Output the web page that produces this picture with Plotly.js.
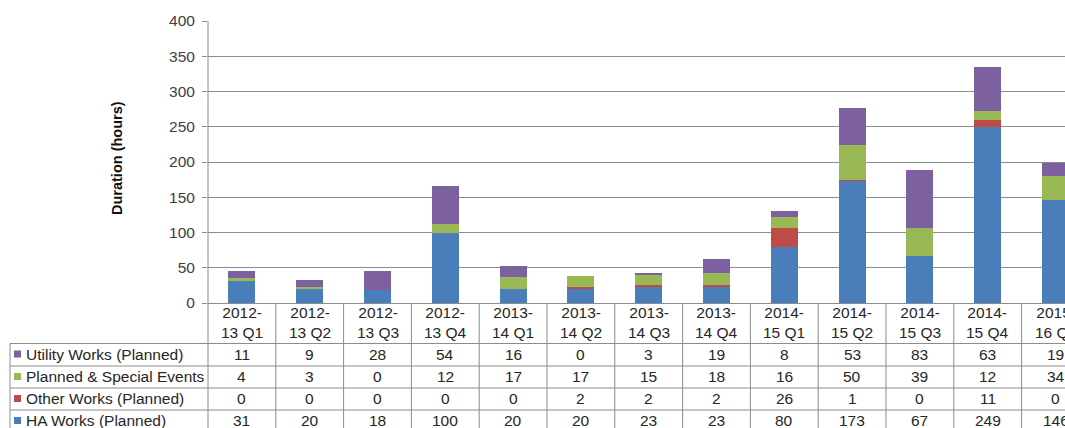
<!DOCTYPE html>
<html>
<head>
<meta charset="utf-8">
<script src="https://cdn.plot.ly/plotly-3.0.1.min.js"></script>
<style>
  html, body { margin: 0; padding: 0; overflow: hidden; background: #ffffff; }
  #chart { width: 1065px; height: 428px; }
</style>
</head>
<body>
<div id="chart"></div>
<script>
// Quarterly planned roadworks duration (hours), stacked by works type
const quarters = [
  "2012-<br>13 Q1", "2012-<br>13 Q2", "2012-<br>13 Q3", "2012-<br>13 Q4",
  "2013-<br>14 Q1", "2013-<br>14 Q2", "2013-<br>14 Q3", "2013-<br>14 Q4",
  "2014-<br>15 Q1", "2014-<br>15 Q2", "2014-<br>15 Q3", "2014-<br>15 Q4",
  "2015-<br>16 Q1"
];
const haWorks      = [31, 20, 18, 100, 20, 20, 23, 23, 80, 173, 67, 249, 146];
const otherWorks   = [0, 0, 0, 0, 0, 2, 2, 2, 26, 1, 0, 11, 0];
const specialEvents = [4, 3, 0, 12, 17, 17, 15, 18, 16, 50, 39, 12, 34];
const utilityWorks = [11, 9, 28, 54, 16, 0, 3, 19, 8, 53, 83, 63, 19];

const seriesNames = [
  "HA Works (Planned)",
  "Other Works (Planned)",
  "Planned & Special Events",
  "Utility Works (Planned)"
];
const yTicks = [0, 50, 100, 150, 200, 250, 300, 350, 400];

// page geometry (pixels)
const W = 1065, H = 428;
const L = 208, T = 21, B = 125;
const plotW = W - L, plotH = H - T - B;
const colW = 67.8;
const gridColor = "#8c8c8c";
const textColor = "#262626";
const font = "Liberation Sans, Arial, sans-serif";
const fs = 15.5;

const colors = {
  ha: "#4a7ebb",
  other: "#be4b48",
  events: "#98b954",
  utility: "#7d60a0"
};

const px = x => (x - L) / plotW;          // page x -> paper x
const py = y => (H - B - y) / plotH;      // page y -> paper y

const idx = quarters.map((_, i) => i);

function barTrace(name, values, color) {
  return {
    type: "bar", name: name, x: idx, y: values,
    marker: { color: color, line: { width: 0 } },
    hoverinfo: "name+y"
  };
}

const traces = [
  barTrace(seriesNames[0], haWorks, colors.ha),
  barTrace(seriesNames[1], otherWorks, colors.other),
  barTrace(seriesNames[2], specialEvents, colors.events),
  barTrace(seriesNames[3], utilityWorks, colors.utility)
];

// data table underneath the bars: rows listed top to bottom
const tableRows = [
  { label: seriesNames[3], values: utilityWorks, color: colors.utility },
  { label: seriesNames[2], values: specialEvents, color: colors.events },
  { label: seriesNames[1], values: otherWorks, color: colors.other },
  { label: seriesNames[0], values: haWorks, color: colors.ha }
];
const rowTops = [343.5, 366, 388, 410];
const rowH = 22;

const shapes = [];
const annotations = [];
const line = { color: gridColor, width: 1 };

// value axis line running down through the table
shapes.push({ type: "line", xref: "paper", yref: "paper",
  x0: 0, x1: 0, y0: 1, y1: py(H + 5), line: line });

// column separators
for (let k = 0; k < quarters.length; k++) {
  shapes.push({ type: "line", xref: "x", yref: "paper",
    x0: k + 0.5, x1: k + 0.5, y0: 0, y1: py(H + 5), line: line });
}

// row separators and the legend-key column box
rowTops.forEach(top => {
  shapes.push({ type: "line", xref: "paper", yref: "paper",
    x0: px(10), x1: 1, y0: py(top), y1: py(top), line: line });
});
shapes.push({ type: "line", xref: "paper", yref: "paper",
  x0: px(10), x1: px(10), y0: py(rowTops[0]), y1: py(H + 5), line: line });

tableRows.forEach((row, r) => {
  const cy = rowTops[r] + rowH / 2 - 0.5;
  // legend key
  shapes.push({ type: "rect", xref: "paper", yref: "paper",
    x0: px(14), x1: px(21), y0: py(cy + 3.5), y1: py(cy - 3.5),
    fillcolor: row.color, line: { width: 0 } });
  annotations.push({ xref: "paper", yref: "paper", x: px(24), y: py(cy),
    xanchor: "left", yanchor: "middle", showarrow: false, text: row.label,
    font: { family: font, size: fs, color: textColor } });
  row.values.forEach((v, k) => {
    annotations.push({ xref: "x", yref: "paper", x: k, y: py(cy),
      xanchor: "center", yanchor: "middle", showarrow: false, text: String(v),
      font: { family: font, size: fs, color: textColor } });
  });
});

// quarter labels in the table header row
quarters.forEach((q, k) => {
  annotations.push({ xref: "x", yref: "paper", x: k, y: py(322.5),
    xanchor: "center", yanchor: "middle", showarrow: false, text: q,
    font: { family: font, size: fs, color: textColor } });
});

// value axis title
annotations.push({ xref: "paper", yref: "paper", x: px(117), y: py(158),
  xanchor: "center", yanchor: "middle", showarrow: false, textangle: -90,
  text: "<b>Duration (hours)</b>",
  font: { family: font, size: 14.5, color: "#111111" } });

const layout = {
  width: W, height: H,
  margin: { l: L, r: 0, t: T, b: B, pad: 0 },
  paper_bgcolor: "#ffffff", plot_bgcolor: "#ffffff",
  barmode: "stack", bargap: 0.6,
  showlegend: false,
  font: { family: font, size: fs, color: textColor },
  xaxis: {
    range: [-0.5, -0.5 + plotW / colW],
    showgrid: false, zeroline: false,
    showline: true, linecolor: gridColor, linewidth: 1,
    showticklabels: false, ticks: "", fixedrange: true
  },
  yaxis: {
    range: [0, 400], tickvals: yTicks, ticktext: yTicks.map(String),
    showgrid: true, gridcolor: gridColor, gridwidth: 1,
    zeroline: false, showline: false,
    ticks: "outside", ticklen: 5, tickcolor: gridColor,
    ticklabelstandoff: 4,
    tickfont: { family: font, size: fs, color: "#404040" },
    fixedrange: true
  },
  shapes: shapes,
  annotations: annotations
};

Plotly.newPlot("chart", traces, layout, { displayModeBar: false, staticPlot: true });
</script>
</body>
</html>
